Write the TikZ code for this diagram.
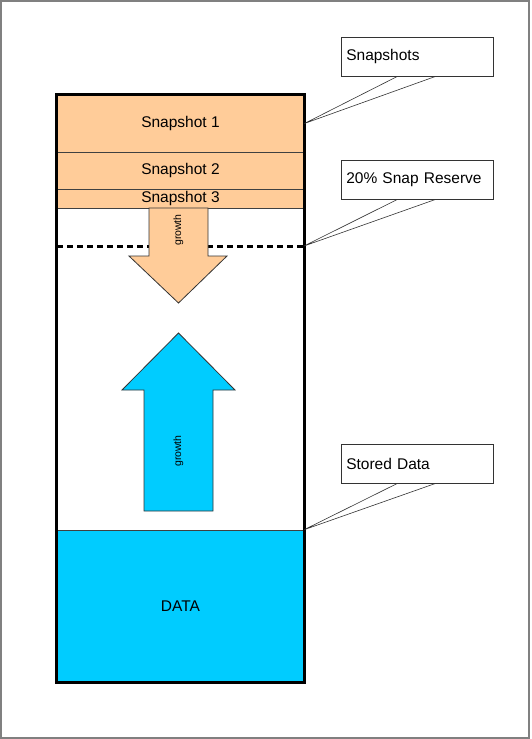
\documentclass[tikz,border=0pt]{standalone}
\usepackage{fontspec}
\setmainfont{Liberation Sans}
\usetikzlibrary{calc}
\definecolor{peach}{HTML}{FFCC99}
\definecolor{sky}{HTML}{00CCFF}
\definecolor{framegray}{HTML}{808080}
\tikzset{
        layer/.style={draw=black!75,line width=0.8pt,minimum width=247pt,inner sep=0pt,
                font=\fontsize{15.5}{18}\selectfont},
        callout/.style={draw=black!80,fill=white,line width=0.6pt,anchor=north west,
                minimum height=39pt,text width=142pt,inner xsep=5pt,inner ysep=0pt,align=left,
                font=\fontsize{15.5}{18}\selectfont},
        tail/.style={draw=black!80,line width=0.6pt},
        growthtext/.style={rotate=90,inner sep=0pt,font=\fontsize{10.5}{12}\selectfont}
}
\begin{document}
\begin{tikzpicture}[x=1pt,y=-1pt]
        \useasboundingbox (0,0) rectangle (531,739);
        \fill[white] (0,0) rectangle (531,739);
        \draw[framegray,line width=2pt] (1,1) rectangle (529,738);
        % storage column
        \node[layer,fill=peach,minimum height=57pt] (snapone) at (180.5,123.5) {Snapshot 1};
        \node[layer,fill=peach,minimum height=37pt] (snaptwo) at (180.5,170.5) {Snapshot 2};
        \node[layer,fill=peach,minimum height=19pt] (snapthree) at (180.5,198.5) {Snapshot 3};
        \node[layer,fill=sky,minimum height=152pt] (dataarea) at (180.5,606) {DATA};
        \coordinate (reservestart) at (57,246);
        \coordinate (reserveend) at (304,246);
        \draw[line width=3pt,dash pattern=on 6pt off 4pt] (reservestart) -- (reserveend);
        % growth arrows
        \draw[fill=peach,draw=black!80,line width=0.8pt] (149,208) -- (208,208) -- (208,256) -- (227,256)
                -- (178.5,303) -- (129,256) -- (149,256) -- cycle;
        \node[growthtext] (snapgrowth) at (178.5,230) {growth};
        \draw[fill=sky,draw=black!80,line width=0.8pt] (144,511) -- (213,511) -- (213,390) -- (235,390)
                -- (178.5,333) -- (122,390) -- (144,390) -- cycle;
        \node[growthtext] (datagrowth) at (178.5,451) {growth};
        \draw[line width=3pt] (snapone.north west) rectangle (dataarea.south east);
        % callouts
        \coordinate (tipshots) at (snapone.east);
        \coordinate (tipstored) at (dataarea.north east);
        \node[callout] (cshots) at (341,37) {Snapshots};
        \node[callout] (creserve) at (341,160) {20\% Snap Reserve};
        \node[callout] (cstored) at (341,444) {Stored Data};
        \draw[tail] ($(cshots.south west)+(56,0)$) -- (tipshots) -- ($(cshots.south west)+(94,0)$);
        \draw[tail] ($(creserve.south west)+(56,0)$) -- (reserveend) -- ($(creserve.south west)+(94,0)$);
        \draw[tail] ($(cstored.south west)+(56,0)$) -- (tipstored) -- ($(cstored.south west)+(94,0)$);
\end{tikzpicture}
\end{document}
